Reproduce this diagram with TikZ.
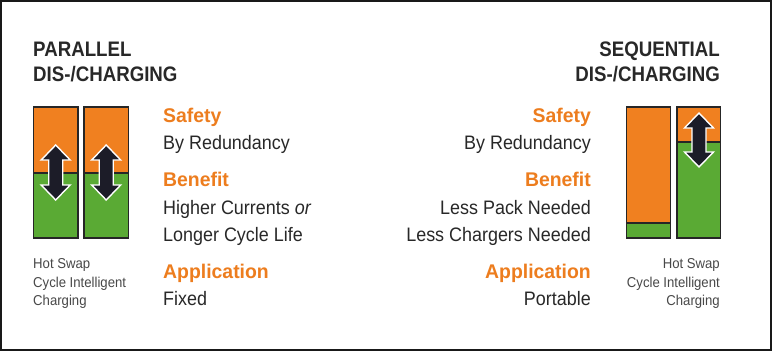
\documentclass[tikz,border=0pt]{standalone}
\usepackage{fontspec}
\setmainfont{Liberation Sans}
\newfontfamily\headfont[FakeStretch=0.89]{Liberation Sans}
\newfontfamily\bodyfont[FakeStretch=0.92]{Liberation Sans}
\newfontfamily\orfont[FakeStretch=0.98]{Liberation Sans}
\definecolor{batorange}{RGB}{240,128,32}
\definecolor{batgreen}{RGB}{90,170,52}
\definecolor{txtorange}{RGB}{237,125,30}
\definecolor{txtdark}{RGB}{40,40,40}
\definecolor{arrowdark}{RGB}{28,28,40}
\tikzset{
  heading/.style={font=\headfont\bfseries\fontsize{21}{25}\selectfont, text=txtdark, inner sep=0pt, align=left},
  orhead/.style={font=\orfont\bfseries\fontsize{19.8}{24}\selectfont, text=txtorange, inner sep=0pt},
  body/.style={font=\bodyfont\fontsize{19.5}{24}\selectfont, text=txtdark, inner sep=0pt},
  small/.style={font=\bodyfont\fontsize{14.3}{18}\selectfont, text=txtdark!85!white, inner sep=0pt},
  cellframe/.style={draw=black!85, line width=1.8pt},
  dblarrow/.style={fill=arrowdark, draw=white, line width=1.4pt, line join=miter}
}
\newcommand{\dblarr}[3]{% center x, top y, bottom y
  \filldraw[dblarrow] (#1,#2) -- (#1+14.5,#2+15) -- (#1+7,#2+15) -- (#1+7,#3-15) -- (#1+14.5,#3-15)
   -- (#1,#3) -- (#1-14.5,#3-15) -- (#1-7,#3-15) -- (#1-7,#2+15) -- (#1-14.5,#2+15) -- cycle;}
\begin{document}
\begin{tikzpicture}[x=1pt,y=-1pt]
\useasboundingbox (0,0) rectangle (772,351);
\fill[white] (0,0) rectangle (772,351);
\draw[line width=2.2pt, black!90] (1.1,1.3) rectangle (770.9,349.9);

% --- left headings
\node[heading, anchor=base west] (ph1) at (33,56) {PARALLEL};
\node[heading, anchor=base west] (ph2) at (33,81) {DIS-/CHARGING};
% --- right headings
\node[heading, anchor=base east] (sh1) at (720,56) {SEQUENTIAL};
\node[heading, anchor=base east] (sh2) at (720,81) {DIS-/CHARGING};

% --- parallel batteries
\fill[batorange] (33.5,107) rectangle (78,173);
\fill[batgreen] (33.5,173) rectangle (78,238);
\draw[cellframe] (33.5,107) rectangle (78,238);
\draw[cellframe] (33.5,173) -- (78,173);
\fill[batorange] (84,107) rectangle (128.5,173);
\fill[batgreen] (84,173) rectangle (128.5,238);
\draw[cellframe] (84,107) rectangle (128.5,238);
\draw[cellframe] (84,173) -- (128.5,173);
\dblarr{55.7}{145}{200}
\dblarr{106.2}{145}{200}

% --- sequential batteries
\fill[batorange] (626.5,107) rectangle (670.5,223);
\fill[batgreen] (626.5,223) rectangle (670.5,238);
\draw[cellframe] (626.5,107) rectangle (670.5,238);
\draw[cellframe] (626.5,223) -- (670.5,223);
\fill[batorange] (677,107) rectangle (720.5,142);
\fill[batgreen] (677,142) rectangle (720.5,238);
\draw[cellframe] (677,107) rectangle (720.5,238);
\draw[cellframe] (677,142) -- (720.5,142);
\dblarr{699}{113}{167}

% --- left middle column
\node[orhead, anchor=base west] (ls) at (163,122) {Safety};
\node[body, anchor=base west] (lsr) at (163,149) {By Redundancy};
\node[orhead, anchor=base west] (lb) at (163,186) {Benefit};
\node[body, anchor=base west] (lb1) at (163,214) {Higher Currents \textit{or}};
\node[body, anchor=base west] (lb2) at (163,241) {Longer Cycle Life};
\node[orhead, anchor=base west] (la) at (163,278) {Application};
\node[body, anchor=base west] (la1) at (163,305) {Fixed};

% --- right middle column
\node[orhead, anchor=base east] (rs) at (591,122) {Safety};
\node[body, anchor=base east] (rsr) at (591,149) {By Redundancy};
\node[orhead, anchor=base east] (rb) at (591,186) {Benefit};
\node[body, anchor=base east] (rb1) at (591,214) {Less Pack Needed};
\node[body, anchor=base east] (rb2) at (591,241) {Less Chargers Needed};
\node[orhead, anchor=base east] (ra) at (591,278) {Application};
\node[body, anchor=base east] (ra1) at (591,305) {Portable};

% --- small captions
\node[small, anchor=base west] (lc1) at (33,268) {Hot Swap};
\node[small, anchor=base west] (lc2) at (33,287) {Cycle Intelligent};
\node[small, anchor=base west] (lc3) at (33,305) {Charging};
\node[small, anchor=base east] (rc1) at (720,268) {Hot Swap};
\node[small, anchor=base east] (rc2) at (720,287) {Cycle Intelligent};
\node[small, anchor=base east] (rc3) at (720,305) {Charging};
\end{tikzpicture}
\end{document}
